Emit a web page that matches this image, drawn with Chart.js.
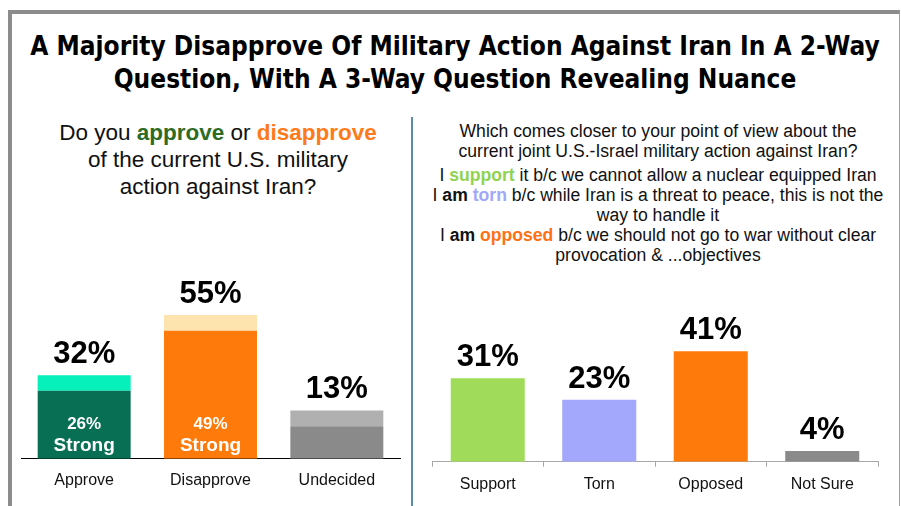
<!DOCTYPE html>
<html>
<head>
<meta charset="utf-8">
<script src="https://cdn.jsdelivr.net/npm/chart.js@4"></script>
<style>
  body { margin: 0; width: 901px; height: 506px; background: #fff; position: relative; overflow: hidden; font-family: "Liberation Sans", Arial, sans-serif; }
  .frame { position: absolute; left: 8px; top: 10px; width: 887px; height: 520px; border-top: 4px solid #8c8c8c; border-left: 4px solid #8c8c8c; border-right: 1px solid #a0a0a0; }
  .divider { position: absolute; left: 411px; top: 117px; width: 2px; height: 400px; background: #5a8da5; }
  .title { position: absolute; left: 12px; width: 886px; top: 30px; text-align: center; font-family: "DejaVu Sans Condensed", "DejaVu Sans", sans-serif; font-weight: bold; font-size: 26px; line-height: 33px; color: #000; }
  .qleft { position: absolute; left: 18px; width: 400px; top: 119px; text-align: center; font-size: 22.5px; line-height: 27px; color: #111; }
  .qright { position: absolute; left: 398px; width: 520px; top: 121px; text-align: center; font-size: 17.6px; line-height: 20px; color: #111; }
  canvas { position: absolute; top: 0; }
</style>
</head>
<body>
<div class="frame"></div>
<div class="divider"></div>
<div class="title">A Majority Disapprove Of Military Action Against Iran In A 2-Way<br>Question, With A 3-Way Question Revealing Nuance</div>
<div class="qleft">Do you <b style="color:#2e6b24">approve</b> or <b style="color:#fe7a1a">disapprove</b><br>of the current U.S. military<br>action against Iran?</div>
<div class="qright">Which comes closer to your point of view about the<br>current joint U.S.-Israel military action against Iran?<div style="height:4px"></div>I <b style="color:#8fd34f">support</b> it b/c we cannot allow a nuclear equipped Iran<br>I <b>am</b> <b style="color:#a0a8f8">torn</b> b/c while Iran is a threat to peace, this is not the<br>way to handle it<br>I <b>am</b> <b style="color:#fe7215">opposed</b> b/c we should not go to war without clear<br>provocation &amp; ...objectives</div>
<canvas id="left" width="412" height="506" style="left:0"></canvas>
<canvas id="right" width="487" height="506" style="left:414px"></canvas>
<script>
// left: approve / disapprove (strong + soft stacked)
const leftCategories = ['Approve', 'Disapprove', 'Undecided'];
const leftStrong = [26, 49, 12.5];
const leftSoft = [6, 6, 6];
const leftTotalLabels = ['32%', '55%', '13%'];
const leftStrongLabels = ['26%', '49%', ''];

// right: 3-way question
const rightCategories = ['Support', 'Torn', 'Opposed', 'Not Sure'];
const rightValues = [31, 23, 41, 4];
const rightLabels = ['31%', '23%', '41%', '4%'];

const FONT = '"Liberation Sans", Arial, sans-serif';

// draws the big % above each bar, and the "Strong" text inside the left bars
const valueLabels = {
  id: 'valueLabels',
  afterDatasetsDraw(chart, args, opts) {
    const ctx = chart.ctx;
    const n = chart.data.datasets.length;
    const topMeta = chart.getDatasetMeta(n - 1);
    const base = chart.scales.y.getPixelForValue(0);
    ctx.save();
    ctx.textAlign = 'center';
    topMeta.data.forEach((bar, i) => {
      ctx.fillStyle = '#000';
      ctx.font = 'bold 31px ' + FONT;
      ctx.textBaseline = 'alphabetic';
      ctx.fillText(opts.totals[i], bar.x, bar.y - 12);
      if (opts.inner && opts.inner[i]) {
        ctx.fillStyle = '#fff';
        ctx.font = 'bold 17px ' + FONT;
        ctx.fillText(opts.inner[i], bar.x, base - 30);
        ctx.font = 'bold 19px ' + FONT;
        ctx.fillText('Strong', bar.x, base - 8);
      }
    });
    ctx.restore();
  }
};

new Chart(document.getElementById('left'), {
  type: 'bar',
  data: {
    labels: leftCategories,
    datasets: [
      {
        label: 'Strong',
        data: leftStrong,
        backgroundColor: ['#086f55', '#fe7a0a', '#8a8a8a'],
        barPercentage: 0.736,
        categoryPercentage: 1,
      },
      {
        label: 'Soft',
        data: leftSoft,
        backgroundColor: ['#05f0bb', '#fde3ad', '#b0b0b0'],
        barPercentage: 0.736,
        categoryPercentage: 1,
      },
    ],
  },
  options: {
    responsive: false,
    animation: false,
    layout: { padding: { top: 302, bottom: 12, left: 21, right: 12 } },
    plugins: {
      legend: { display: false },
      tooltip: { enabled: false },
      valueLabels: { totals: leftTotalLabels, inner: leftStrongLabels },
    },
    scales: {
      x: {
        stacked: true,
        grid: { display: false },
        border: { color: '#000', width: 1 },
        ticks: { color: '#111', font: { family: FONT, size: 16 }, padding: 4 },
      },
      y: { stacked: true, display: false, min: 0, max: 60 },
    },
  },
  plugins: [valueLabels],
});

new Chart(document.getElementById('right'), {
  type: 'bar',
  data: {
    labels: rightCategories,
    datasets: [
      {
        label: 'Share',
        data: rightValues,
        backgroundColor: ['#a0dc5a', '#a3a8fd', '#fe7a0a', '#8a8a8a'],
        barPercentage: 0.664,
        categoryPercentage: 1,
      },
    ],
  },
  options: {
    responsive: false,
    animation: false,
    layout: { padding: { top: 300, bottom: 4, left: 18, right: 23 } },
    plugins: {
      legend: { display: false },
      tooltip: { enabled: false },
      valueLabels: { totals: rightLabels },
    },
    scales: {
      x: {
        grid: { display: true, drawOnChartArea: false, offset: true, tickLength: 5, color: '#a8a8a8' },
        border: { color: '#a8a8a8', width: 1 },
        ticks: { color: '#111', font: { family: FONT, size: 16 }, padding: 8 },
      },
      y: { display: false, min: 0, max: 60 },
    },
  },
  plugins: [valueLabels],
});
</script>
</body>
</html>
